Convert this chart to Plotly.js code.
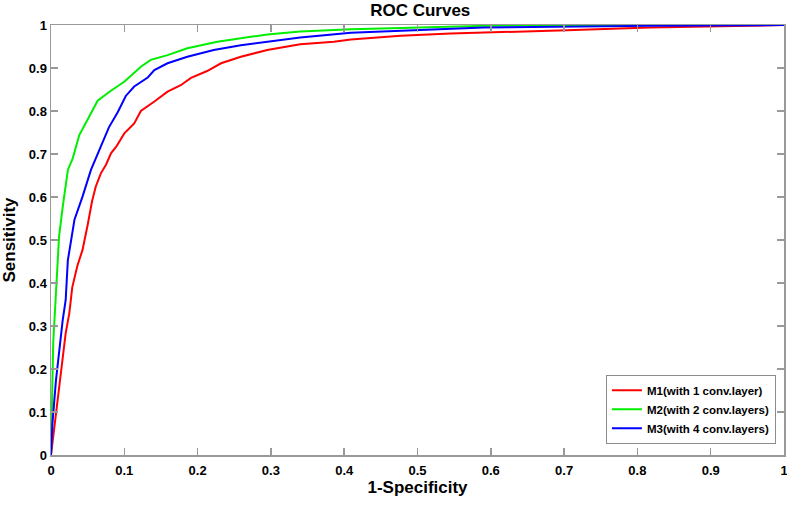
<!DOCTYPE html>
<html>
<head>
<meta charset="utf-8">
<script src="https://cdn.plot.ly/plotly-3.0.1.min.js"></script>
<style>
  html, body { margin: 0; padding: 0; background: #fff; }
  #roc { width: 787px; height: 506px; }
</style>
</head>
<body>
<div id="roc"></div>
<script>
// values (1-specificity vs sensitivity)
const m1_fpr = [0, 0.0045, 0.009, 0.0136, 0.02, 0.025, 0.029, 0.036, 0.043, 0.05, 0.056, 0.061, 0.068, 0.075, 0.082, 0.089, 0.1, 0.1135, 0.1226, 0.141, 0.159, 0.177, 0.191, 0.213, 0.232, 0.259, 0.295, 0.34, 0.386, 0.409, 0.477, 0.545, 0.613, 0.704, 0.817, 0.9, 0.976, 1];
const m1_tpr = [0, 0.066, 0.128, 0.198, 0.283, 0.33, 0.39, 0.44, 0.477, 0.535, 0.59, 0.624, 0.655, 0.675, 0.702, 0.717, 0.748, 0.771, 0.8, 0.822, 0.845, 0.86, 0.877, 0.893, 0.911, 0.926, 0.942, 0.955, 0.961, 0.966, 0.975, 0.98, 0.984, 0.988, 0.994, 0.996, 0.999, 1];

const m2_fpr = [0, 0.001, 0.002, 0.003, 0.0045, 0.0077, 0.011, 0.016, 0.023, 0.0296, 0.0386, 0.05, 0.0636, 0.0817, 0.1, 0.1226, 0.136, 0.159, 0.186, 0.227, 0.272, 0.295, 0.34, 0.409, 0.477, 0.59, 0.7, 1];
const m2_tpr = [0, 0.1, 0.2, 0.26, 0.307, 0.4, 0.508, 0.577, 0.663, 0.69, 0.744, 0.78, 0.824, 0.847, 0.868, 0.903, 0.919, 0.93, 0.946, 0.961, 0.973, 0.978, 0.985, 0.99, 0.993, 0.998, 1, 1];

const m3_fpr = [0, 0.002, 0.0068, 0.011, 0.016, 0.02, 0.023, 0.032, 0.037, 0.043, 0.0545, 0.066, 0.079, 0.091, 0.102, 0.1135, 0.132, 0.141, 0.159, 0.186, 0.222, 0.259, 0.295, 0.34, 0.409, 0.477, 0.59, 0.817, 1];
const m3_tpr = [0, 0.074, 0.174, 0.244, 0.314, 0.36, 0.453, 0.547, 0.57, 0.601, 0.663, 0.709, 0.762, 0.797, 0.835, 0.857, 0.878, 0.895, 0.911, 0.926, 0.942, 0.953, 0.961, 0.971, 0.982, 0.987, 0.994, 0.998, 1];

const names = ['M1(with 1 conv.layer)', 'M2(with 2 conv.layers)', 'M3(with 4 conv.layers)'];
const colors = ['#ff0000', '#00ee00', '#0000ff'];

const fnt = 'Liberation Sans, Arial, Helvetica, sans-serif';

let data = [
    { x: m1_fpr, y: m1_tpr, name: names[0], type: 'scatter', mode: 'lines', line: { color: colors[0], width: 2 } },
    { x: m2_fpr, y: m2_tpr, name: names[1], type: 'scatter', mode: 'lines', line: { color: colors[1], width: 2 } },
    { x: m3_fpr, y: m3_tpr, name: names[2], type: 'scatter', mode: 'lines', line: { color: colors[2], width: 2 } }
];

let axisStyle = {
    range: [0, 1],
    dtick: 0.1,
    tick0: 0,
    showgrid: false,
    zeroline: false,
    showline: true,
    mirror: 'ticks',
    linecolor: '#999999',
    linewidth: 1.5,
    ticks: 'inside',
    ticklen: 7,
    tickwidth: 1.5,
    tickcolor: '#999999',
    ticklabeloverflow: 'allow',
    tickfont: { family: fnt, size: 13, color: '#000', weight: 'bold' },
    fixedrange: true
};

let layout = {
    width: 787,
    height: 506,
    margin: { l: 51, r: 3, t: 25, b: 51 },
    paper_bgcolor: '#fff',
    plot_bgcolor: '#fff',
    title: {
        text: 'ROC Curves',
        x: 0.534, xanchor: 'center',
        y: 0.981, yanchor: 'middle',
        font: { family: fnt, size: 17, color: '#000', weight: 'bold' }
    },
    xaxis: Object.assign({}, axisStyle, {
        ticklabelstandoff: 3,
        title: { text: '1-Specificity', standoff: 4, font: { family: fnt, size: 17, color: '#000', weight: 'bold' } }
    }),
    yaxis: Object.assign({}, axisStyle, {
        title: { text: 'Sensitivity', standoff: 9, font: { family: fnt, size: 17, color: '#000', weight: 'bold' } }
    }),
    showlegend: true,
    legend: {
        x: 0.989, xanchor: 'right',
        y: 0.026, yanchor: 'bottom',
        bgcolor: '#fff',
        bordercolor: '#8c8c8c',
        borderwidth: 1,
        itemwidth: 30,
        font: { family: fnt, size: 11.5, color: '#000', weight: 'bold' }
    }
};

Plotly.newPlot('roc', data, layout, { displayModeBar: false, staticPlot: true });
</script>
</body>
</html>
